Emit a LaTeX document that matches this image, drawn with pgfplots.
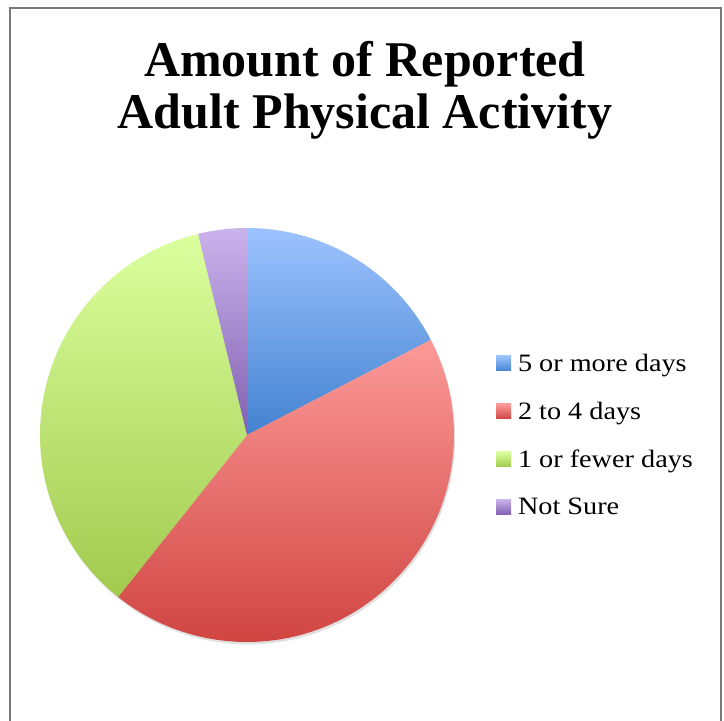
\documentclass[border=0pt]{standalone}
\usepackage{pgfplots}
\pgfplotsset{compat=1.18}
\usepackage{pgfplotstable}
\usepackage{fontspec}
\setmainfont{Liberation Serif}
\newfontfamily\legfont[FakeStretch=1.13]{Liberation Serif}
\definecolor{blueT}{HTML}{9DC3FF}
\definecolor{blueB}{HTML}{4382D0}
\definecolor{redT}{HTML}{FC9A98}
\definecolor{redB}{HTML}{D04542}
\definecolor{greenT}{HTML}{DBFF9E}
\definecolor{greenB}{HTML}{A2CA4E}
\definecolor{purpT}{HTML}{CBB3EC}
\definecolor{purpB}{HTML}{8060B0}
\pgfplotstableread{
label value
A 17.4
B 43.3
C 35.5
D 3.8
}\datatable
\begin{document}
\begin{tikzpicture}[x=1pt,y=1pt]
\useasboundingbox (0,0) rectangle (724,721);
\fill[white] (0,0) rectangle (724,721);
\draw[gray!95!black, line width=1.6pt] (10,-5) -- (10,713) -- (721,713) -- (721,-5);
\node[anchor=base, font=\bfseries\fontsize{50}{53}\selectfont] at (365,644) {Amount of Reported};
\node[anchor=base, font=\bfseries\fontsize{50}{53}\selectfont] at (365,592) {Adult Physical Activity};
\pgfplotstablegetelem{0}{value}\of\datatable \let\vA\pgfplotsretval
\pgfplotstablegetelem{1}{value}\of\datatable \let\vB\pgfplotsretval
\pgfplotstablegetelem{2}{value}\of\datatable \let\vC\pgfplotsretval
\pgfplotstablegetelem{3}{value}\of\datatable \let\vD\pgfplotsretval
\pgfmathsetmacro\tot{\vA+\vB+\vC+\vD}
\pgfmathsetmacro\aA{90}
\pgfmathsetmacro\aB{\aA-360*\vA/\tot}
\pgfmathsetmacro\aC{\aB-360*\vB/\tot}
\pgfmathsetmacro\aD{\aC-360*\vC/\tot}
\pgfmathsetmacro\aE{\aD-360*\vD/\tot}
\begin{axis}[at={(247pt,286pt)}, anchor=center, scale only axis,
  width=414pt, height=414pt, xmin=-1, xmax=1, ymin=-1, ymax=1,
  hide axis, clip=false,
  legend cell align=left,
  legend style={draw=none, fill=none, at={(1.101,0.5)}, anchor=west,
    inner sep=0pt, font=\legfont\fontsize{25}{28}\selectfont, row sep=25pt,
    /tikz/every even column/.append style={column sep=0pt}},
  ]
\addplot[draw=none, fill=black, opacity=0.12, domain=0:360, samples=120, variable=\t, forget plot]
  ({cos(\t)+0.006},{sin(\t)-0.012}) -- cycle;
\addplot[draw=none, top color=blueT, bottom color=blueB, domain=\aB:\aA, samples=60, variable=\t,
  legend image code/.code={\fill[top color=blueT, bottom color=blueB] (0pt,-7.5pt) rectangle (15pt,7.5pt); \path (20pt,0pt);}]
  ({cos(\t)},{sin(\t)}) -- (axis cs:0,0) -- cycle;
\addlegendentry{5 or more days}
\addplot[draw=none, top color=redT, bottom color=redB, domain=\aC:\aB, samples=100, variable=\t,
  legend image code/.code={\fill[top color=redT, bottom color=redB] (0pt,-7.5pt) rectangle (15pt,7.5pt); \path (20pt,0pt);}]
  ({cos(\t)},{sin(\t)}) -- (axis cs:0,0) -- cycle;
\addlegendentry{2 to 4 days}
\addplot[draw=none, top color=greenT, bottom color=greenB, domain=\aD:\aC, samples=100, variable=\t,
  legend image code/.code={\fill[top color=greenT, bottom color=greenB] (0pt,-7.5pt) rectangle (15pt,7.5pt); \path (20pt,0pt);}]
  ({cos(\t)},{sin(\t)}) -- (axis cs:0,0) -- cycle;
\addlegendentry{1 or fewer days}
\addplot[draw=none, top color=purpT, bottom color=purpB, domain=\aE:\aD, samples=20, variable=\t,
  legend image code/.code={\fill[top color=purpT, bottom color=purpB] (0pt,-7.5pt) rectangle (15pt,7.5pt); \path (20pt,0pt);}]
  ({cos(\t)},{sin(\t)}) -- (axis cs:0,0) -- cycle;
\addlegendentry{Not Sure}
\end{axis}
\end{tikzpicture}
\end{document}
